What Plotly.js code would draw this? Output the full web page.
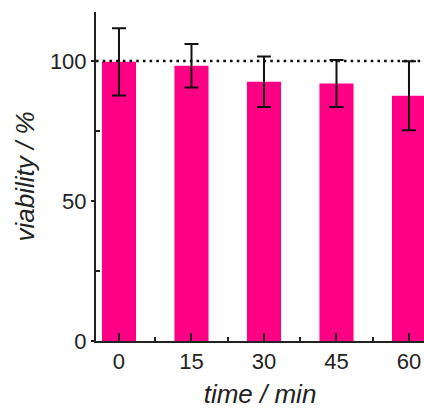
<!DOCTYPE html>
<html>
<head>
<meta charset="utf-8">
<script src="https://cdn.plot.ly/plotly-3.0.1.min.js"></script>
<style>html,body{margin:0;padding:0;background:#fff;}#chart{width:424px;height:409px;}</style>
</head>
<body>
<div id="chart"></div>
<script>
const timeLabels = ["0", "15", "30", "45", "60"];
const viability = [99.7, 98.3, 92.6, 92.0, 87.6];
const errors = [12.0, 7.8, 9.0, 8.4, 12.3];
const referenceLevel = 100;

const xIdx = timeLabels.map((_, i) => i);

const trace = {
  type: "bar",
  x: xIdx,
  y: viability,
  width: 0.47,
  marker: {color: "#ff0084", line: {width: 0}},
  error_y: {type: "data", array: errors, visible: true, color: "#111", thickness: 2, width: 7},
  hoverinfo: "skip"
};

const font = "Liberation Sans, Arial, sans-serif";

const layout = {
  width: 424, height: 409,
  margin: {l: 96, r: 0, t: 12, b: 68},
  paper_bgcolor: "#fff", plot_bgcolor: "#fff",
  showlegend: false,
  xaxis: {
    range: [-0.317, 4.207],
    tickmode: "array", tickvals: xIdx, ticktext: timeLabels,
    ticks: "inside", ticklen: 8, tickwidth: 2, tickcolor: "#222",
    minor: {ticks: "inside", tickmode: "array", tickvals: [0.5, 1.5, 2.5, 3.5], ticklen: 4, tickwidth: 2, tickcolor: "#222"},
    showline: true, linecolor: "#222", linewidth: 2,
    showgrid: false, zeroline: false,
    tickfont: {family: font, size: 22, color: "#222"},
    title: {text: "<i>time / min</i>", font: {family: font, size: 26, color: "#222"}, standoff: 16}
  },
  yaxis: {
    range: [0, 117.5],
    tickmode: "array", tickvals: [0, 50, 100],
    ticks: "outside", ticklen: 3, tickwidth: 2, tickcolor: "#222",
    minor: {ticks: "inside", tickmode: "array", tickvals: [25, 75], ticklen: 4, tickwidth: 2, tickcolor: "#222"},
    showline: true, linecolor: "#222", linewidth: 2,
    showgrid: false, zeroline: false,
    tickfont: {family: font, size: 22, color: "#222"},
    title: {text: "<i>viability / %</i>", font: {family: font, size: 26, color: "#222"}, standoff: 8}
  },
  shapes: [{
    type: "line", xref: "paper", yref: "y",
    x0: 0, x1: 1, y0: referenceLevel, y1: referenceLevel,
    line: {color: "#111", width: 2.6, dash: "2.6px,4.1px"}
  }]
};

Plotly.newPlot("chart", [trace], layout, {displayModeBar: false, staticPlot: true});
</script>
</body>
</html>
